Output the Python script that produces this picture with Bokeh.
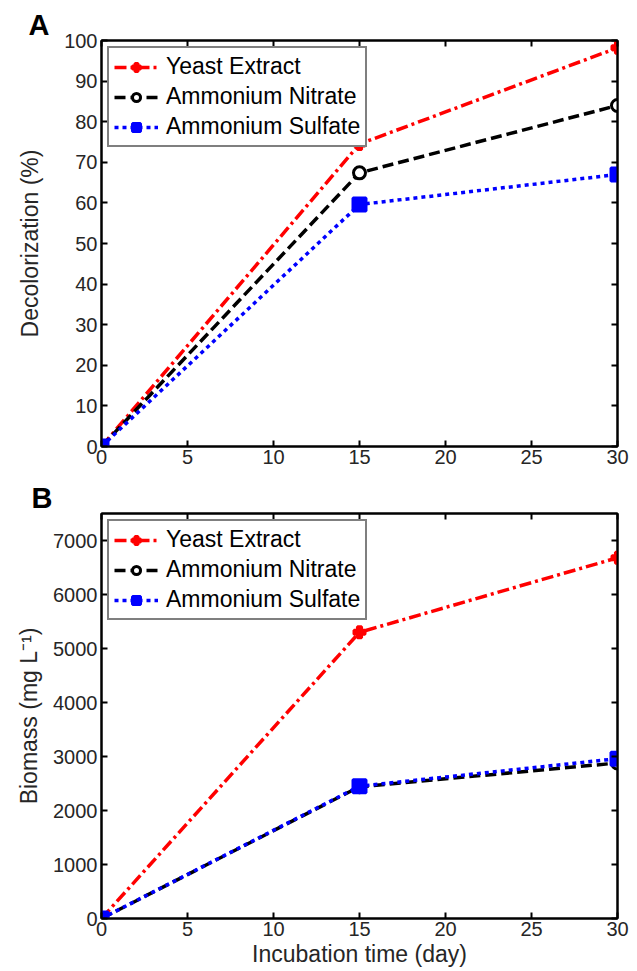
from bokeh.plotting import figure
from bokeh.models import (Range1d, FixedTicker, LinearAxis, Legend, LegendItem,
                          CustomJSTickFormatter)
from bokeh.layouts import column
from bokeh.embed import file_html
from bokeh.resources import INLINE

# ---------------- data ----------------
days = [0, 15, 30]
series_names = ["Yeast Extract", "Ammonium Nitrate", "Ammonium Sulfate"]

decol_yeast = [0, 74.5, 98.2]
decol_nitrate = [0, 67.4, 84.0]
decol_sulfate = [0, 59.6, 67.0]

bio_yeast = [0, 5300, 6680]
bio_nitrate = [0, 2440, 2880]
bio_sulfate = [0, 2450, 2960]

x_ticks = [0, 5, 10, 15, 20, 25, 30]
a_ticks = [0, 10, 20, 30, 40, 50, 60, 70, 80, 90, 100]
b_ticks = [0, 1000, 2000, 3000, 4000, 5000, 6000, 7000]

FONT = "Liberation Sans"
TXT = "#262626"

styles = [
    dict(color="#FF0000", dash="12 4 3 4", marker="plus", size=11, fill="#FF0000", lw=3.5),
    dict(color="#000000", dash="11 5", marker="circle", size=12, fill="white", lw=3.5),
    dict(color="#0000FF", dash="4 4", marker="square", size=13, fill="#0000FF", lw=3.5),
]


def hidden_axis(ticks):
    ax = LinearAxis(ticker=FixedTicker(ticks=ticks),
                    formatter=CustomJSTickFormatter(code="return ''"),
                    major_label_text_font_size="0px", major_label_standoff=0,
                    major_tick_in=6, major_tick_out=0, major_tick_line_width=2,
                    minor_tick_line_color=None, axis_line_width=2)
    return ax


def make_fig(height, width, ymax, yticks, ylabel, ylabel_standoff, xlabel,
             bl, br, bt, bb, letter, letter_off, ys):
    p = figure(width=width, height=height, x_range=Range1d(0, 30),
               y_range=Range1d(0, ymax), output_backend="svg",
               toolbar_location=None, min_border_left=bl, min_border_right=br,
               min_border_top=bt, min_border_bottom=bb)
    p.grid.visible = False
    p.outline_line_color = "black"
    p.outline_line_width = 2
    p.background_fill_color = "white"
    p.border_fill_color = "white"

    p.title.text = letter
    p.title.align = "left"
    p.title.offset = letter_off
    p.title.standoff = 0
    p.title.text_font = FONT
    p.title.text_font_size = "29px"
    p.title.text_font_style = "bold"
    p.title.text_color = "black"

    p.xaxis.ticker = FixedTicker(ticks=x_ticks)
    p.yaxis.ticker = FixedTicker(ticks=yticks)
    for ax in (p.xaxis[0], p.yaxis[0]):
        ax.major_tick_in = 6
        ax.major_tick_out = 0
        ax.major_tick_line_width = 2
        ax.minor_tick_line_color = None
        ax.axis_line_width = 2
        ax.major_label_text_font = FONT
        ax.major_label_text_font_size = "20px"
        ax.major_label_text_color = TXT
        ax.axis_label_text_font = FONT
        ax.axis_label_text_font_size = "23px"
        ax.axis_label_text_font_style = "normal"
        ax.axis_label_text_color = TXT
    p.xaxis[0].major_label_standoff = 3
    p.yaxis[0].major_label_standoff = 4
    p.yaxis[0].axis_label = ylabel
    p.yaxis[0].axis_label_standoff = ylabel_standoff
    if xlabel:
        p.xaxis[0].axis_label = xlabel
        p.xaxis[0].axis_label_standoff = 2

    p.add_layout(hidden_axis(x_ticks), "above")
    p.add_layout(hidden_axis(yticks), "right")

    items = []
    for name, yv, st in zip(series_names, ys, styles):
        lr = p.line(days, yv, line_color=st["color"], line_width=st["lw"],
                    line_dash=st["dash"])
        sr = p.scatter(days, yv, marker=st["marker"], size=st["size"],
                       line_color=st["color"], fill_color=st["fill"],
                       line_width=3)
        items.append(LegendItem(label=name, renderers=[lr, sr]))

    legend = Legend(items=items, location="top_left", margin=6, padding=5,
                    spacing=3, glyph_width=44, glyph_height=20,
                    label_standoff=8, label_text_font=FONT,
                    label_text_font_size="23px", label_text_color="black",
                    border_line_color="black", border_line_width=2,
                    background_fill_color="white", background_fill_alpha=1.0)
    p.add_layout(legend, "center")
    return p


pA = make_fig(475, 637, 100, a_ticks, "Decolorization (%)", 18, None,
              101, 17, 40, 29, "A", -73,
              [decol_yeast, decol_nitrate, decol_sulfate])
pB = make_fig(496, 637, 7500, b_ticks, "Biomass (mg L\u207b\u00b9)", 8,
              "Incubation time (day)", 98, 20, 38, 53, "B", -70,
              [bio_yeast, bio_nitrate, bio_sulfate])

layout = column(pA, pB, spacing=0)
open("out.html", "w").write(file_html(layout, INLINE))
